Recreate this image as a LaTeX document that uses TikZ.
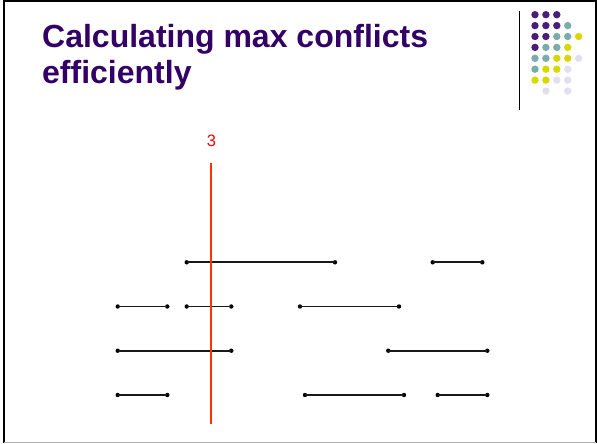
\documentclass[tikz,border=0pt]{standalone}
\usepackage{fontspec}
\setmainfont{Liberation Sans}
\usepackage{xcolor}
\usetikzlibrary{calc}

\definecolor{titlepurple}{RGB}{51,0,102}
\definecolor{dotpurple}{RGB}{76,28,122}
\definecolor{dotteal}{RGB}{122,172,172}
\definecolor{dotyellow}{RGB}{218,214,0}
\definecolor{dotlilac}{RGB}{226,223,240}
\definecolor{sweepred}{RGB}{255,51,0}

\begin{document}
\begin{tikzpicture}[x=1pt, y=-1pt,
    endpt/.style={circle, fill=black, inner sep=0pt, minimum size=4.4pt},
    seg/.style={line width=1.8pt, black!90},
    deco/.style={radius=3.7pt}]
  \useasboundingbox (0,0) rectangle (597,444);
  % slide frame
  \draw[line width=2pt] (4,443) -- (4,1) -- (595.5,1) -- (595.5,443);
  \draw[black!30, line width=1pt] (4,442.5) -- (595.5,442.5);

  % title
  \node[anchor=base west, align=left, inner sep=0pt, text=titlepurple,
        font=\fontsize{32}{36.3}\selectfont\bfseries] (title) at (42,83.3)
        {Calculating max conflicts\\efficiently};

  % corner decoration
  \draw[line width=1pt] (519,11) -- (519,110);
  \foreach \c/\r/\col in {0/0/dotpurple,1/0/dotpurple,2/0/dotpurple,
      0/1/dotpurple,1/1/dotpurple,2/1/dotpurple,3/1/dotteal,
      0/2/dotpurple,1/2/dotpurple,2/2/dotteal,3/2/dotteal,4/2/dotyellow,
      0/3/dotpurple,1/3/dotteal,2/3/dotteal,3/3/dotyellow,
      0/4/dotteal,1/4/dotteal,2/4/dotyellow,3/4/dotyellow,4/4/dotlilac,
      0/5/dotteal,1/5/dotyellow,2/5/dotyellow,3/5/dotlilac,
      0/6/dotyellow,1/6/dotyellow,2/6/dotlilac,3/6/dotlilac,
      1/7/dotlilac,3/7/dotlilac}
    \fill[\col, deco] ({535+10.9*\c},{14.7+10.9*\r}) circle;

  % intervals
  \foreach \n/\xa/\xb/\y in {p/186.7/335/262.3, q/432.7/482.3/262.3,
      r/117.7/167.3/306.5, s/186.7/231.3/306.5, t/300/399/306.5,
      u/117.7/231.3/350.7, v/388.3/487.3/350.7,
      w/117.7/167.3/395, x/305/404/395, y/437.7/487.3/395} {
    \node[endpt] (\n a) at (\xa,\y) {};
    \node[endpt] (\n b) at (\xb,\y) {};
    \draw[seg] (\n a.center) -- (\n b.center);
  }

  % sweep line
  \node[text=red, font=\fontsize{16.5}{18}\selectfont] (count) at (211.5,141) {3};
  \coordinate (sweeptop) at (211,162.7);
  \coordinate (sweepbot) at (211,424.3);
  \draw[sweepred, line width=2.4pt] (sweeptop) -- (sweepbot);
\end{tikzpicture}
\end{document}
